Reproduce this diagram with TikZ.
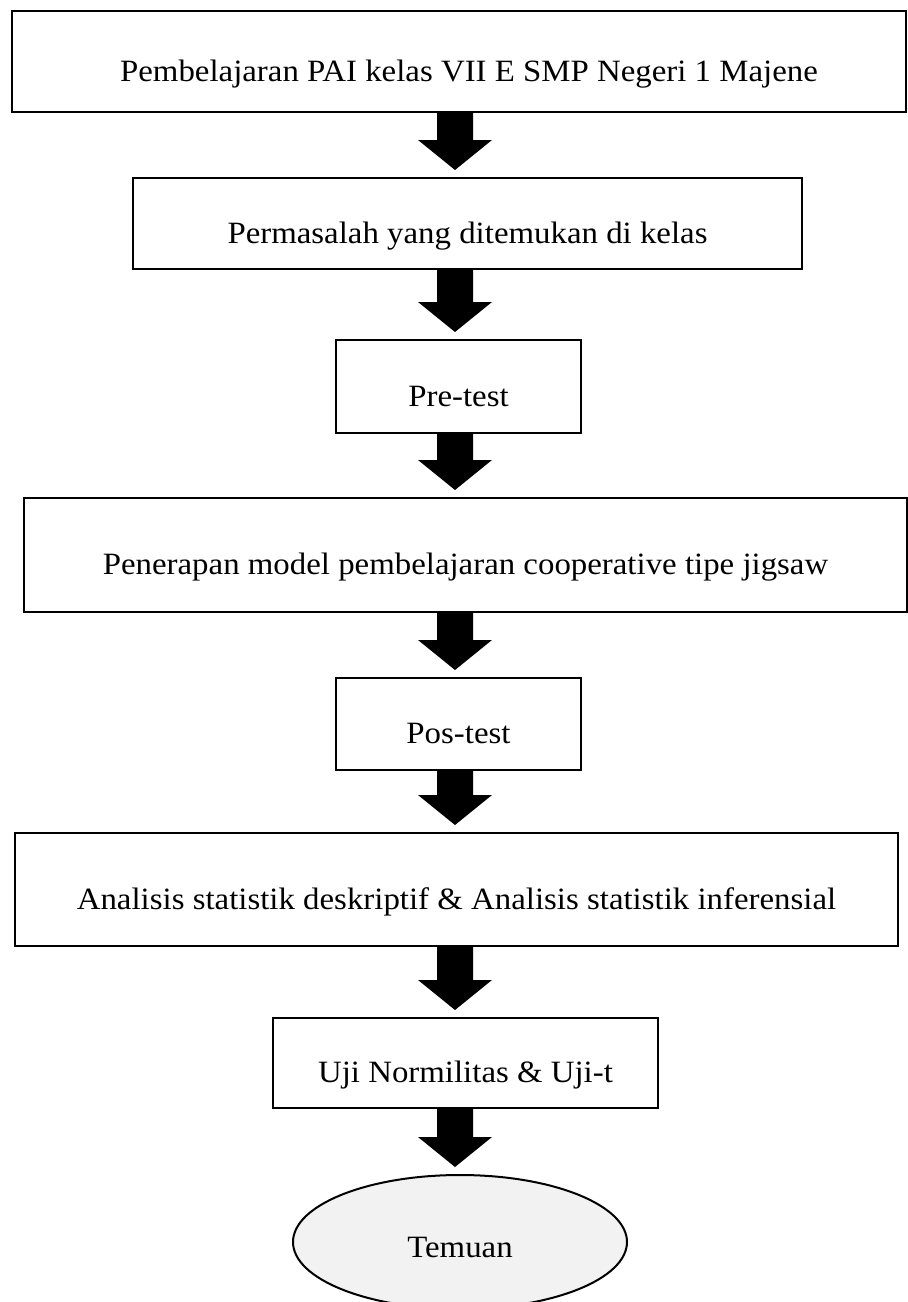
\documentclass[tikz,border=0pt]{standalone}
\usepackage{fontspec}
\setmainfont{Liberation Serif}[FakeStretch=1.06]
\usetikzlibrary{calc,shapes.geometric}

\begin{document}
\begin{tikzpicture}[x=1pt,y=-1pt,
	kotak/.style={draw,line width=2pt,inner sep=0pt,text height=39pt,text depth=0pt,
		font=\fontsize{31}{37}\selectfont},
	hasil/.style={ellipse,draw,line width=2pt,fill=gray!10,inner sep=0pt,
		text height=31pt,text depth=0pt,font=\fontsize{31}{37}\selectfont}]

\useasboundingbox (0,0) rectangle (908,1302);

\def\panah#1#2{
	\fill let \p1=(#1.south -| sumbu), \p2=(#2.north -| sumbu) in
		(\x1-18pt,\y1) -- (\x1+18pt,\y1) -- (\x1+18pt,\y2+37pt) -- (\x1+37pt,\y2+37pt)
		-- (\x1,\y2+7pt) -- (\x1-37pt,\y2+37pt) -- (\x1-18pt,\y2+37pt) -- cycle;
}

\coordinate (sumbu) at (455,0);

\node[kotak,minimum width=894pt,minimum height=101pt] (b1) at (459,61.5)
	{\hspace*{20pt}Pembelajaran PAI kelas VII E SMP Negeri 1 Majene};
\node[kotak,minimum width=669pt,minimum height=91pt] (b2) at (467.5,223.5)
	{Permasalah yang ditemukan di kelas};
\node[kotak,minimum width=245pt,minimum height=93pt] (b3) at (458.5,386.5)
	{Pre-test};
\node[kotak,minimum width=883pt,minimum height=114pt] (b4) at (465.5,555)
	{Penerapan model pembelajaran cooperative tipe jigsaw};
\node[kotak,minimum width=245pt,minimum height=92pt] (b5) at (458.5,724)
	{Pos-test};
\node[kotak,minimum width=883pt,minimum height=113pt] (b6) at (456.5,889.5)
	{Analisis statistik deskriptif \& Analisis statistik inferensial};
\node[kotak,minimum width=385pt,minimum height=90pt] (b7) at (465.5,1063)
	{Uji Normilitas \& Uji-t};
\node[hasil,minimum width=334pt,minimum height=134pt] (e) at (460,1242)
	{Temuan};

\foreach \a/\b in {b1/b2,b2/b3,b3/b4,b4/b5,b5/b6,b6/b7,b7/e}{
	\panah{\a}{\b}
}

\end{tikzpicture}
\end{document}
